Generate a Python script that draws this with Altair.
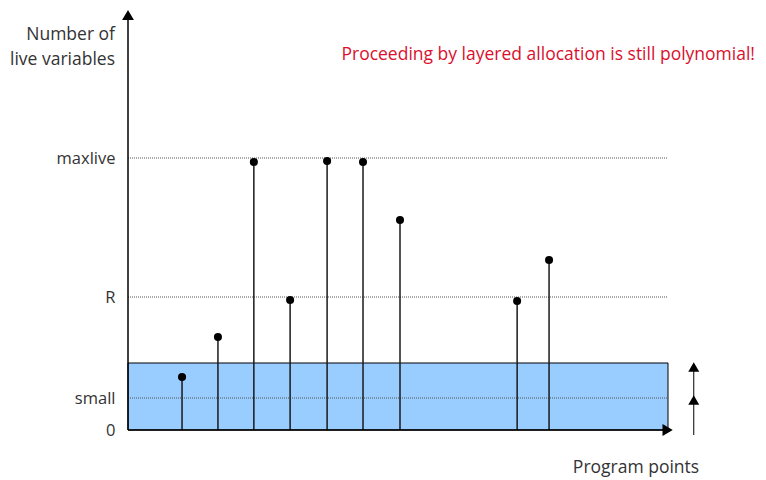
import altair as alt
import pandas as pd

# Program points (x) and number of live variables (y) for each stem
point_x = [1.49, 2.48, 3.47, 4.47, 5.49, 6.48, 7.50, 10.73, 11.61]
live_y = [5.3, 9.3, 26.8, 13.0, 26.9, 26.8, 21.0, 12.9, 17.0]

# Reference levels
level_names = ["0", "small", "R", "maxlive"]
level_values = [0, 3.2, 13.3, 27.2]

# Shaded band (registers reserved for "small") and extents
band_top = 6.7
x_end = 14.89
x_max = 15.0
y_max = 42.2

FONT = "Open Sans"

stems = pd.DataFrame({"x": point_x, "y": live_y, "y0": [0] * len(point_x)})
grid = pd.DataFrame({"v": level_values[1:], "x0": [0] * 3, "x1": [x_end] * 3})
band = pd.DataFrame({"x0": [0], "x1": [x_end], "y0": [0], "y1": [band_top]})

xs = alt.Scale(domain=[0, x_max], nice=False, zero=False)
ys = alt.Scale(domain=[0, y_max], nice=False, zero=False)


def X(f):
    return alt.X(f, scale=xs, axis=None)


def Y(f):
    return alt.Y(f, scale=ys)


# y axis that carries the level labels
label_expr = ("datum.value == 0 ? '" + level_names[0] + "' : datum.value == 3.2 ? '" + level_names[1]
              + "' : datum.value == 13.3 ? '" + level_names[2] + "' : '" + level_names[3] + "'")
rect = alt.Chart(band).mark_rect(fill="#99ccff", stroke="black", strokeWidth=1).encode(
    x=X("x0:Q"), x2="x1:Q",
    y=alt.Y("y0:Q", scale=ys,
            axis=alt.Axis(values=level_values, labelExpr=label_expr,
                          domain=False, ticks=False, grid=False, title=None,
                          labelFont=FONT, labelFontSize=16.5, labelColor="#333",
                          labelPadding=13)),
    y2="y1:Q",
)

gridlines = alt.Chart(grid).mark_rule(color="#555", strokeWidth=1, strokeDash=[1, 1]).encode(
    x=X("x0:Q"), x2="x1:Q", y=Y("v:Q")
)

stem_rules = alt.Chart(stems).mark_rule(color="#1a1a1a", strokeWidth=1.5).encode(
    x=X("x:Q"), y=Y("y0:Q"), y2="y:Q"
)
dots = alt.Chart(stems).mark_point(filled=True, color="black", size=65, opacity=1).encode(
    x=X("x:Q"), y=Y("y:Q")
)

# Axes drawn as arrows
axes_df = pd.DataFrame({"x0": [0, 0], "x1": [0, x_max - 0.1], "y0": [0, 0], "y1": [y_max - 0.8, 0]})
axes_lines = alt.Chart(axes_df).mark_rule(color="black", strokeWidth=1.5).encode(
    x=X("x0:Q"), x2="x1:Q", y=Y("y0:Q"), y2="y1:Q"
)
up_head = alt.Chart(pd.DataFrame({"x": [0], "y": [y_max - 0.7]})).mark_point(
    shape="triangle-up", filled=True, color="black", size=140, opacity=1).encode(
    x=X("x:Q"), y=Y("y:Q"))
right_head = alt.Chart(pd.DataFrame({"x": [x_max - 0.12], "y": [0]})).mark_point(
    shape="triangle-right", filled=True, color="black", size=140, opacity=1).encode(
    x=X("x:Q"), y=Y("y:Q"))

# Side arrow showing layers
side_df = pd.DataFrame({"x": [15.6], "y0": [-0.5], "y1": [6.5]})
side_line = alt.Chart(side_df).mark_rule(color="black", strokeWidth=1).encode(
    x=X("x:Q"), y=Y("y0:Q"), y2="y1:Q")
side_heads = alt.Chart(pd.DataFrame({"x": [15.6, 15.6], "y": [6.3, 3.0]})).mark_point(
    shape="triangle-up", filled=True, color="black", size=120, opacity=1).encode(
    x=X("x:Q"), y=Y("y:Q"))

ylab = alt.Chart(pd.DataFrame({"t": [["Number of", "live variables"]]})).mark_text(
    font=FONT, fontSize=17.5, color="#333", align="right", baseline="middle", lineHeight=25).encode(
    x=alt.value(-13), y=alt.value(27), text="t:N")
xlab = alt.Chart(pd.DataFrame({"t": ["Program points"]})).mark_text(
    font=FONT, fontSize=17.5, color="#333", align="center", baseline="middle").encode(
    x=alt.value(508), y=alt.value(460), text="t:N")
note = alt.Chart(pd.DataFrame({"t": ["Proceeding by layered allocation is still polynomial!"]})).mark_text(
    font=FONT, fontSize=17.5, color="#d9102e", align="right", baseline="middle").encode(
    x=alt.value(627), y=alt.value(47), text="t:N")

chart = alt.layer(rect, gridlines, stem_rules, dots, axes_lines, up_head, right_head,
                  side_line, side_heads, ylab, xlab, note).properties(
    width=544, height=422,
    padding={"left": 120, "top": 0, "right": 86, "bottom": 50},
    autosize=alt.AutoSizeParams(type="none"),
    background="white",
).configure_view(strokeWidth=0, stroke=None).configure_axis(grid=False)

chart.save("out.html", embed_options={"renderer": "svg", "actions": False})
